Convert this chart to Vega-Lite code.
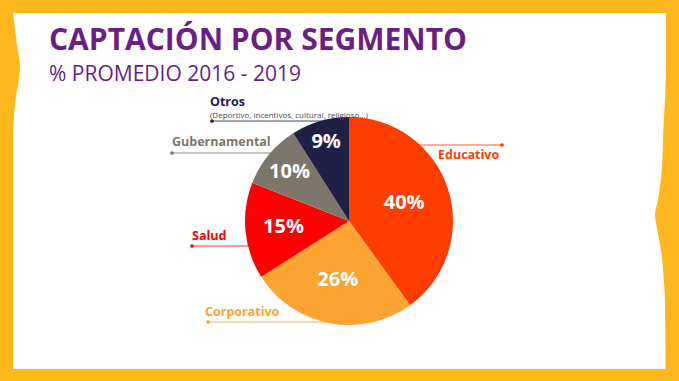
{
  "$schema": "https://vega.github.io/schema/vega-lite/v6.json",
  "width": 679,
  "height": 381,
  "padding": 0,
  "autosize": {"type": "none"},
  "background": "#FFB71E",
  "config": {"view": {"stroke": null}},
  "datasets": {
    "segs": [
      {"seg": "Educativo", "pct": 40, "ord": 1, "label": "40%"},
      {"seg": "Corporativo", "pct": 26, "ord": 2, "label": "26%"},
      {"seg": "Salud", "pct": 15, "ord": 3, "label": "15%"},
      {"seg": "Gubernamental", "pct": 10, "ord": 4, "label": "10%"},
      {"seg": "Otros", "pct": 9, "ord": 5, "label": "9%"}
    ],
    "frame": [
      {"yy": -208, "xl": -336, "xr": 317},
      {"yy": -196, "xl": -334.5, "xr": 317},
      {"yy": -176, "xl": -332, "xr": 317},
      {"yy": -154, "xl": -329, "xr": 317},
      {"yy": -136, "xl": -331, "xr": 316.5},
      {"yy": -121, "xl": -333.5, "xr": 316},
      {"yy": -104, "xl": -335, "xr": 315},
      {"yy": -81, "xl": -336, "xr": 314},
      {"yy": -54, "xl": -336, "xr": 313},
      {"yy": -21, "xl": -336, "xr": 309},
      {"yy": -6, "xl": -336, "xr": 306},
      {"yy": 12, "xl": -336, "xr": 309},
      {"yy": 29, "xl": -336, "xr": 312},
      {"yy": 62, "xl": -336, "xr": 315},
      {"yy": 79, "xl": -336, "xr": 316},
      {"yy": 148, "xl": -336, "xr": 316.5}
    ],
    "leaders": [
      {"seg": "Educativo", "x1": 153, "x2": 0, "y": -76},
      {"seg": "Corporativo", "x1": -141, "x2": 0, "y": 101},
      {"seg": "Salud", "x1": -157, "x2": 0, "y": 25},
      {"seg": "Gubernamental", "x1": -177, "x2": 0, "y": -68},
      {"seg": "Otros", "x1": -137, "x2": 0, "y": -100}
    ],
    "names": [
      {"seg": "Educativo", "txt": "Educativo", "x": 89, "y": -66},
      {"seg": "Corporativo", "txt": "Corporativo", "x": -144, "y": 91},
      {"seg": "Salud", "txt": "Salud", "x": -157, "y": 15},
      {"seg": "Gubernamental", "txt": "Gubernamental", "x": -177, "y": -79},
      {"seg": "Otros", "txt": "Otros", "x": -139, "y": -119}
    ],
    "notes": [
      {"txt": "(Deportivo, incentivos, cultural, religioso...)", "x": -139, "y": -105.5}
    ],
    "titles": [
      {"txt": "CAPTACIÓN POR SEGMENTO", "x": -300, "y": -180}
    ],
    "subtitles": [
      {"txt": "% PROMEDIO 2016 - 2019", "x": -300, "y": -146}
    ]
  },
  "layer": [
    {
      "data": {"name": "frame"},
      "mark": {"type": "area", "orient": "horizontal", "color": "#FFFFFF", "interpolate": "monotone"},
      "encoding": {
        "y": {"field": "yy", "type": "quantitative", "scale": {"domain": [-221, 160], "reverse": true, "nice": false, "zero": false}, "axis": null},
        "x": {"field": "xl", "type": "quantitative", "scale": {"domain": [-349, 330], "nice": false, "zero": false}, "axis": null},
        "x2": {"field": "xr"}
      }
    },
    {
      "data": {"name": "leaders"},
      "mark": {"type": "rule", "strokeWidth": 1.5, "opacity": 0.55},
      "encoding": {
        "x": {"field": "x1", "type": "quantitative", "scale": {"domain": [-349, 330], "nice": false, "zero": false}, "axis": null},
        "x2": {"field": "x2"},
        "y": {"field": "y", "type": "quantitative", "scale": {"domain": [-221, 160], "reverse": true, "nice": false, "zero": false}, "axis": null},
        "color": {"field": "seg", "type": "nominal", "legend": null, "scale": {"domain": ["Educativo", "Corporativo", "Salud", "Gubernamental", "Otros"], "range": ["#FF3D00", "#FDA332", "#FF0000", "#7C776A", "#1F2043"]}}
      }
    },
    {
      "data": {"name": "leaders"},
      "mark": {"type": "point", "filled": true, "size": 14, "opacity": 1},
      "encoding": {
        "x": {"field": "x1", "type": "quantitative", "scale": {"domain": [-349, 330], "nice": false, "zero": false}, "axis": null},
        "y": {"field": "y", "type": "quantitative", "scale": {"domain": [-221, 160], "reverse": true, "nice": false, "zero": false}, "axis": null},
        "color": {"field": "seg", "type": "nominal", "legend": null}
      }
    },
    {
      "data": {"name": "segs"},
      "mark": {"type": "arc", "outerRadius": 104},
      "encoding": {
        "x": {"datum": 0, "type": "quantitative", "scale": {"domain": [-349, 330], "nice": false, "zero": false}, "axis": null},
        "y": {"datum": 0, "type": "quantitative", "scale": {"domain": [-221, 160], "reverse": true, "nice": false, "zero": false}, "axis": null},
        "theta": {"field": "pct", "type": "quantitative", "stack": true},
        "order": {"field": "ord", "type": "quantitative"},
        "color": {"field": "seg", "type": "nominal", "legend": null}
      }
    },
    {
      "data": {"name": "segs"},
      "mark": {"type": "text", "font": "Open Sans", "fontWeight": "bold", "fontSize": 20, "color": "#FFFFFF", "align": "center", "baseline": "middle"},
      "encoding": {
        "x": {"datum": 0, "type": "quantitative", "scale": {"domain": [-349, 330], "nice": false, "zero": false}, "axis": null},
        "y": {"datum": 0, "type": "quantitative", "scale": {"domain": [-221, 160], "reverse": true, "nice": false, "zero": false}, "axis": null},
        "theta": {"field": "pct", "type": "quantitative", "stack": true},
        "order": {"field": "ord", "type": "quantitative"},
        "detail": {"field": "seg", "type": "nominal"},
        "radius": {"field": "pct", "type": "quantitative", "scale": {"type": "pow", "exponent": -2, "domain": [9, 40], "range": [82, 58], "zero": false, "nice": false}},
        "text": {"field": "label", "type": "nominal"}
      }
    },
    {
      "data": {"name": "names"},
      "mark": {"type": "text", "font": "Open Sans", "fontWeight": "bold", "fontSize": 12.5, "align": "left", "baseline": "middle"},
      "encoding": {
        "x": {"field": "x", "type": "quantitative", "scale": {"domain": [-349, 330], "nice": false, "zero": false}, "axis": null},
        "y": {"field": "y", "type": "quantitative", "scale": {"domain": [-221, 160], "reverse": true, "nice": false, "zero": false}, "axis": null},
        "color": {"field": "seg", "type": "nominal", "legend": null},
        "text": {"field": "txt", "type": "nominal"}
      }
    },
    {
      "data": {"name": "notes"},
      "mark": {"type": "text", "font": "Open Sans", "fontSize": 8, "color": "#4A4A5A", "align": "left", "baseline": "middle"},
      "encoding": {
        "x": {"field": "x", "type": "quantitative", "scale": {"domain": [-349, 330], "nice": false, "zero": false}, "axis": null},
        "y": {"field": "y", "type": "quantitative", "scale": {"domain": [-221, 160], "reverse": true, "nice": false, "zero": false}, "axis": null},
        "text": {"field": "txt", "type": "nominal"}
      }
    },
    {
      "data": {"name": "titles"},
      "mark": {"type": "text", "font": "Open Sans", "fontWeight": "bold", "fontSize": 30, "color": "#6A1E86", "align": "left", "baseline": "middle"},
      "encoding": {
        "x": {"field": "x", "type": "quantitative", "scale": {"domain": [-349, 330], "nice": false, "zero": false}, "axis": null},
        "y": {"field": "y", "type": "quantitative", "scale": {"domain": [-221, 160], "reverse": true, "nice": false, "zero": false}, "axis": null},
        "text": {"field": "txt", "type": "nominal"}
      }
    },
    {
      "data": {"name": "subtitles"},
      "mark": {"type": "text", "font": "Open Sans", "fontSize": 21, "color": "#6A1E86", "align": "left", "baseline": "middle"},
      "encoding": {
        "x": {"field": "x", "type": "quantitative", "scale": {"domain": [-349, 330], "nice": false, "zero": false}, "axis": null},
        "y": {"field": "y", "type": "quantitative", "scale": {"domain": [-221, 160], "reverse": true, "nice": false, "zero": false}, "axis": null},
        "text": {"field": "txt", "type": "nominal"}
      }
    }
  ]
}
